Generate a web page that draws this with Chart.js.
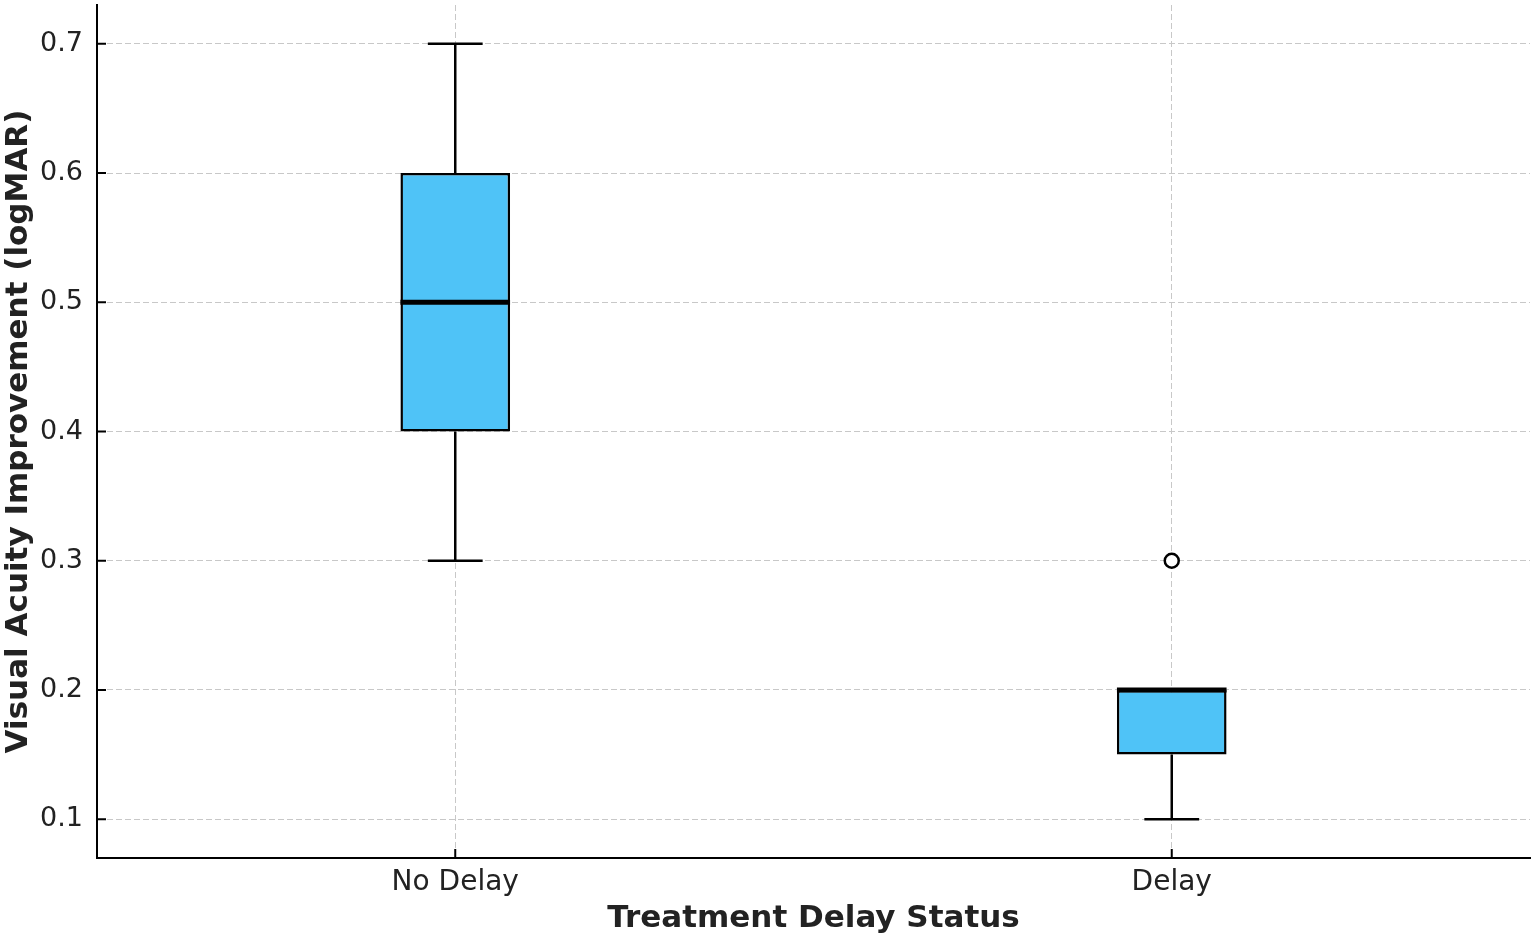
<!DOCTYPE html>
<html>
<head>
<meta charset="utf-8">
<script src="https://cdn.jsdelivr.net/npm/chart.js@4/dist/chart.umd.min.js"></script>
<style>
  html, body { margin: 0; padding: 0; background: #fff; }
  #wrap { width: 1535px; height: 938px; }
</style>
</head>
<body>
<div id="wrap"><canvas id="chart"></canvas></div>
<script>
// box plot values
const groups = ['No Delay', 'Delay'];
const positions = [1, 2];
const whiskerLow = [0.3, 0.1];
const q1 = [0.4, 0.15];
const median = [0.5, 0.2];
const q3 = [0.6, 0.2];
const whiskerHigh = [0.7, 0.2];
const outlierGroup = [2];
const outlierValue = [0.3];
const yTicks = [0.1, 0.2, 0.3, 0.4, 0.5, 0.6, 0.7];

const boxWidth = 0.153;
const capWidth = boxWidth / 2;
const boxColor = '#4FC3F7';
const ink = '#000';

function segment(x1, y1, x2, y2, width, order) {
	return {
		type: 'line',
		data: [{ x: x1, y: y1 }, { x: x2, y: y2 }],
		borderColor: ink,
		borderWidth: width,
		pointRadius: 0,
		fill: false,
		order: order
	};
}

const datasets = [];

// boxes (floating bars)
datasets.push({
	type: 'bar',
	data: positions.map((p, i) => ({ x: p, y: [q1[i], q3[i]] })),
	backgroundColor: boxColor,
	borderColor: ink,
	borderWidth: 2.5,
	borderSkipped: false,
	barPercentage: boxWidth,
	categoryPercentage: 1,
	order: 2
});

positions.forEach((p, i) => {
	// whiskers + caps
	datasets.push(segment(p, q3[i], p, whiskerHigh[i], 2.5, 1));
	datasets.push(segment(p, q1[i], p, whiskerLow[i], 2.5, 1));
	datasets.push(segment(p - capWidth / 2, whiskerHigh[i], p + capWidth / 2, whiskerHigh[i], 2.5, 1));
	datasets.push(segment(p - capWidth / 2, whiskerLow[i], p + capWidth / 2, whiskerLow[i], 2.5, 1));
	// median
	datasets.push(segment(p - boxWidth / 2, median[i], p + boxWidth / 2, median[i], 5, 0));
});

// fliers
datasets.push({
	type: 'scatter',
	data: outlierGroup.map((p, i) => ({ x: p, y: outlierValue[i] })),
	pointStyle: 'circle',
	pointRadius: 7,
	pointBorderWidth: 2.5,
	pointBorderColor: ink,
	pointBackgroundColor: '#fff',
	order: 0
});

// matplotlib style inward tick marks
const innerTicks = {
	id: 'innerTicks',
	afterDatasetsDraw(chart) {
		const { ctx, scales: { x, y } } = chart;
		ctx.save();
		ctx.strokeStyle = ink;
		ctx.lineWidth = 2;
		ctx.beginPath();
		y.ticks.forEach((t, i) => {
			const py = y.getPixelForTick(i);
			ctx.moveTo(y.right, py);
			ctx.lineTo(y.right + 9, py);
		});
		x.ticks.forEach((t, i) => {
			const px = x.getPixelForTick(i);
			ctx.moveTo(px, x.top);
			ctx.lineTo(px, x.top - 9);
		});
		ctx.stroke();
		ctx.restore();
	}
};

const gridStyle = { color: '#c8c8c8', lineWidth: 1, drawTicks: false };
const borderStyle = { color: ink, width: 2, dash: [6, 3] };

new Chart(document.getElementById('chart'), {
	type: 'bar',
	data: { datasets: datasets },
	plugins: [innerTicks],
	options: {
		responsive: true,
		maintainAspectRatio: false,
		animation: false,
		layout: { autoPadding: false, padding: { top: 5, right: 5, left: 0, bottom: 0 } },
		plugins: { legend: { display: false }, tooltip: { enabled: false } },
		scales: {
			x: {
				type: 'linear',
				min: 0.5,
				max: 2.5,
				offset: false,
				grid: Object.assign({ offset: false }, gridStyle),
				border: borderStyle,
				afterBuildTicks: s => { s.ticks = positions.map(v => ({ value: v })); },
				afterFit: s => { s.height = 80; s.paddingLeft = 0; s.paddingRight = 0; },
				ticks: {
					padding: 8,
					color: '#222',
					font: { family: 'DejaVu Sans', size: 28 },
					callback: v => groups[positions.indexOf(v)]
				},
				title: {
					display: true,
					text: 'Treatment Delay Status',
					color: '#222',
					font: { family: 'DejaVu Sans', size: 31, weight: 'bold' },
					padding: { top: 0, bottom: 0 }
				}
			},
			y: {
				type: 'linear',
				min: 0.07,
				max: 0.73,
				grid: gridStyle,
				border: borderStyle,
				afterBuildTicks: s => { s.ticks = yTicks.map(v => ({ value: v })); },
				afterFit: s => { s.width = 97; s.paddingTop = 0; s.paddingBottom = 0; },
				ticks: {
					padding: 14,
					color: '#222',
					font: { family: 'DejaVu Sans', size: 27 },
					callback: v => v.toFixed(1)
				},
				title: {
					display: true,
					text: 'Visual Acuity Improvement (logMAR)',
					color: '#222',
					font: { family: 'DejaVu Sans', size: 31, weight: 'bold' },
					padding: { top: 0, bottom: 0 }
				}
			}
		}
	}
});
</script>
</body>
</html>
